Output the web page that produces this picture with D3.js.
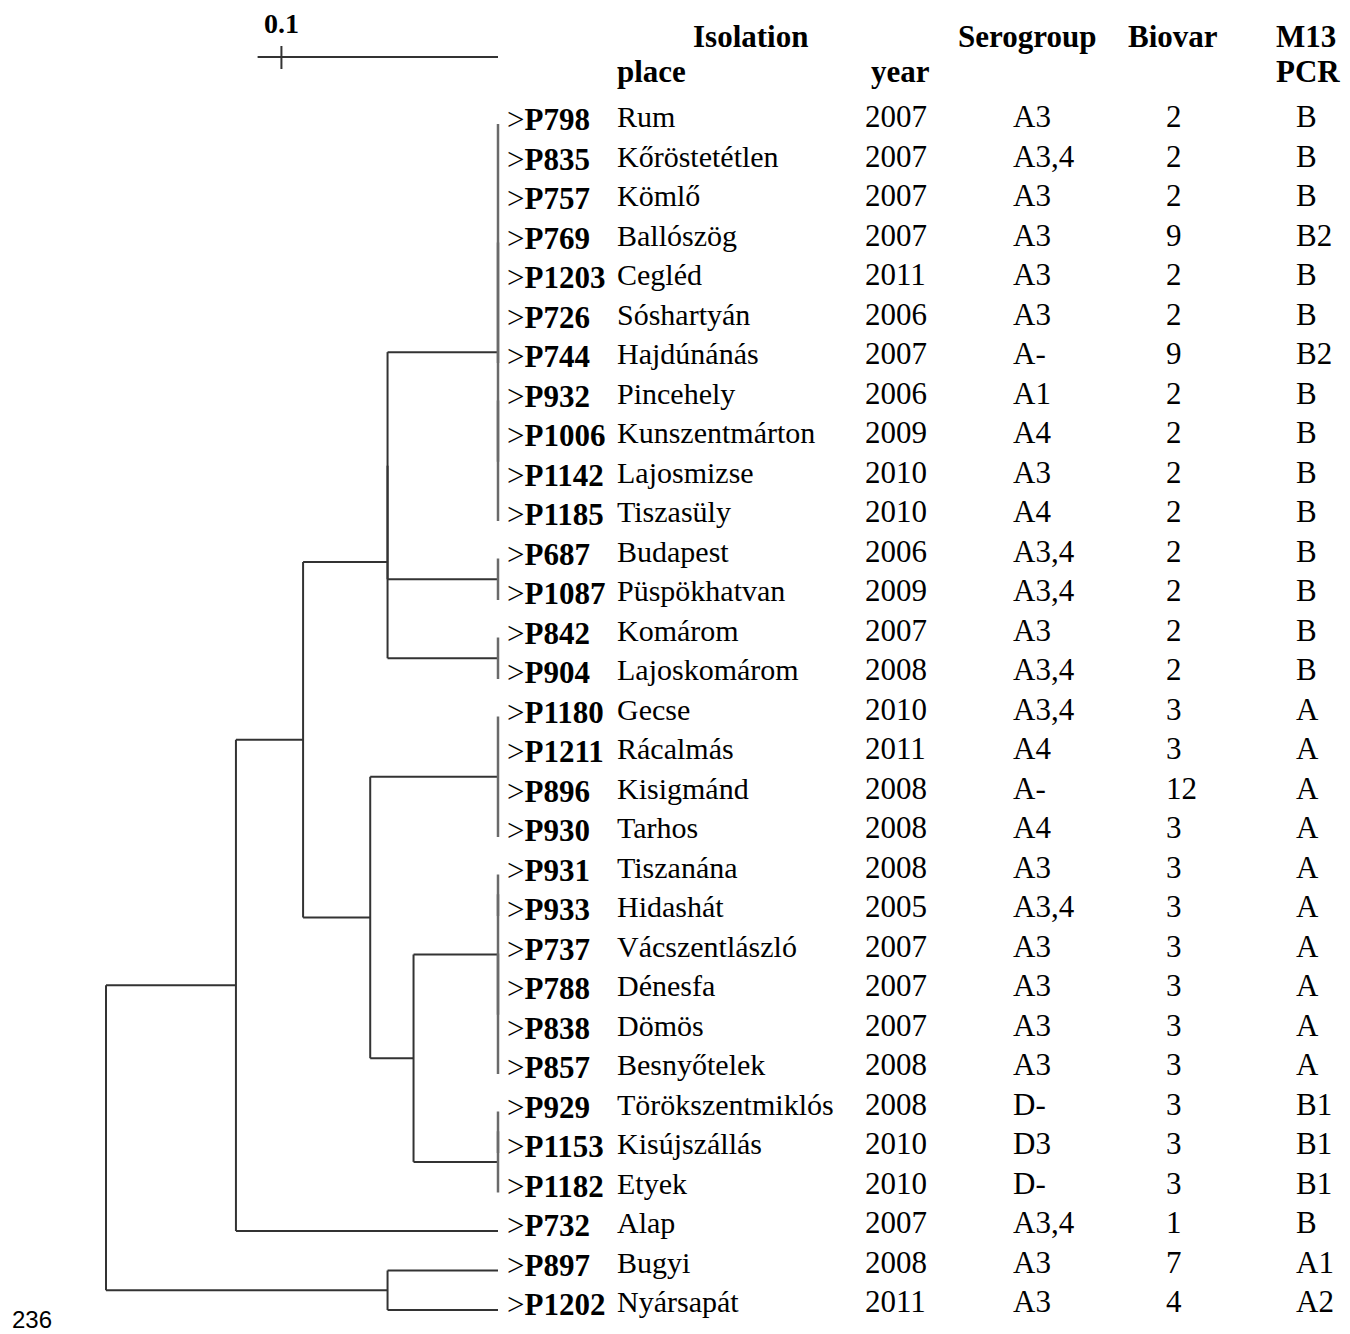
<!DOCTYPE html>
<html>
<head>
<meta charset="utf-8">
<script src="https://cdn.jsdelivr.net/npm/d3@7"></script>
<style>
  body { margin: 0; background: #fff; }
  text { font-family: "Liberation Serif", "Times New Roman", serif; fill: #000; }
</style>
</head>
<body>
<svg id="tree"></svg>
<script>
// isolates, top to bottom
const ids = ["P798", "P835", "P757", "P769", "P1203", "P726", "P744", "P932", "P1006", "P1142", "P1185",
  "P687", "P1087", "P842", "P904", "P1180", "P1211", "P896", "P930", "P931", "P933", "P737", "P788",
  "P838", "P857", "P929", "P1153", "P1182", "P732", "P897", "P1202"];
const places = ["Rum", "Kőröstetétlen", "Kömlő", "Ballószög", "Cegléd", "Sóshartyán", "Hajdúnánás",
  "Pincehely", "Kunszentmárton", "Lajosmizse", "Tiszasüly", "Budapest", "Püspökhatvan", "Komárom",
  "Lajoskomárom", "Gecse", "Rácalmás", "Kisigmánd", "Tarhos", "Tiszanána", "Hidashát", "Vácszentlászló",
  "Dénesfa", "Dömös", "Besnyőtelek", "Törökszentmiklós", "Kisújszállás", "Etyek", "Alap", "Bugyi", "Nyársapát"];
const years = [2007, 2007, 2007, 2007, 2011, 2006, 2007, 2006, 2009, 2010, 2010, 2006, 2009, 2007, 2008,
  2010, 2011, 2008, 2008, 2008, 2005, 2007, 2007, 2007, 2008, 2008, 2010, 2010, 2007, 2008, 2011];
const serogroups = ["A3", "A3,4", "A3", "A3", "A3", "A3", "A-", "A1", "A4", "A3", "A4", "A3,4", "A3,4", "A3",
  "A3,4", "A3,4", "A4", "A-", "A4", "A3", "A3,4", "A3", "A3", "A3", "A3", "D-", "D3", "D-", "A3,4", "A3", "A3"];
const biovars = ["2", "2", "2", "9", "2", "2", "9", "2", "2", "2", "2", "2", "2", "2", "2", "3", "3", "12", "3",
  "3", "3", "3", "3", "3", "3", "3", "3", "3", "1", "7", "4"];
const m13 = ["B", "B", "B", "B2", "B", "B", "B2", "B", "B", "B", "B", "B", "B", "B", "B", "A", "A", "A", "A",
  "A", "A", "A", "A", "A", "A", "B1", "B1", "B1", "B", "A1", "A2"];

// dendrogram (UPGMA-like), branch lengths
const newick = "(((((((P798,P835,P757,P769,P1203,P726,P744):0,(P932,P1006,P1142,P1185):0):0.051,(P687,P1087):0.051):0,(P842,P904):0.051):0.039,((P1180,P1211,P896,P930):0.059,(((P931,P933):0,(P737,P788,P838,P857):0):0.039,((P929,P1153):0,P1182):0.039):0.020):0.031):0.031,P732:0.121):0.060,(P897:0.051,P1202:0.051):0.130);";
const scaleBarValue = 0.1;

const w = 1350;
const h = 1334;
const lineColor = "#333";

const parseNewick = (s) => {
  let i = 0;
  const node = () => {
    const n = {};
    if (s[i] === "(") {
      n.children = [];
      i++;
      n.children.push(node());
      while (s[i] === ",") {
        i++;
        n.children.push(node());
      }
      i++;
    }
    let name = "";
    while (i < s.length && !",():;".includes(s[i])) name += s[i++];
    n.name = name;
    n.length = 0;
    if (s[i] === ":") {
      i++;
      let len = "";
      while (i < s.length && !",();".includes(s[i])) len += s[i++];
      n.length = +len;
    }
    return n;
  };
  return node();
};

const svg = d3.select("#tree").attr("width", w).attr("height", h);

const root = d3.hierarchy(parseNewick(newick));
root.eachBefore((d) => (d.dist = d.parent ? d.parent.dist + d.data.length : 0));
d3.cluster().size([ids.length, 1]).separation(() => 1)(root);

const maxDist = d3.max(root.leaves(), (d) => d.dist);
const xScale = d3.scaleLinear().domain([0, maxDist]).range([106, 498]);
const yScale = d3.scaleLinear().domain([0.5, ids.length - 0.5]).range([125, 1310]);

const leafByName = {};
root.leaves().forEach((d) => (leafByName[d.data.name] = d));

const tree = svg.append("g").attr("stroke", lineColor).attr("stroke-width", 2).attr("fill", "none");

// horizontal branches
tree
  .selectAll("line.branch")
  .data(root.descendants().filter((d) => d.parent && d.data.length > 0))
  .enter()
  .append("line")
  .attr("class", "branch")
  .attr("x1", (d) => xScale(d.parent.dist))
  .attr("x2", (d) => xScale(d.dist))
  .attr("y1", (d) => yScale(d.x))
  .attr("y2", (d) => yScale(d.x));

// vertical connectors
tree
  .selectAll("line.node")
  .data(root.descendants().filter((d) => d.children))
  .enter()
  .append("line")
  .attr("class", "node")
  .attr("stroke", (d) => (d.dist >= maxDist ? "#6a6a6a" : lineColor))
  .attr("stroke-width", (d) => (d.dist >= maxDist ? 2.5 : 2))
  .attr("x1", (d) => xScale(d.dist))
  .attr("x2", (d) => xScale(d.dist))
  .attr("y1", (d) => yScale(d3.min(d.children, (c) => c.x)) - (d.dist >= maxDist ? 1 : 0))
  .attr("y2", (d) => yScale(d3.max(d.children, (c) => c.x)) + (d.dist >= maxDist ? 1 : 0));

// scale bar
const bar = svg.append("g");
bar
  .append("line")
  .attr("x1", xScale(maxDist - scaleBarValue * 1.11))
  .attr("x2", xScale(maxDist))
  .attr("y1", 57)
  .attr("y2", 57)
  .attr("stroke", lineColor)
  .attr("stroke-width", 2);
bar
  .append("line")
  .attr("x1", xScale(maxDist - scaleBarValue))
  .attr("x2", xScale(maxDist - scaleBarValue))
  .attr("y1", 46)
  .attr("y2", 69)
  .attr("stroke", lineColor)
  .attr("stroke-width", 2);
bar
  .append("text")
  .attr("x", xScale(maxDist - scaleBarValue))
  .attr("y", 33)
  .attr("text-anchor", "middle")
  .style("font-weight", "bold")
  .style("font-size", "28px")
  .text(scaleBarValue);

// column headers
const headers = [
  { t: "Isolation", x: 693, y: 47 },
  { t: "place", x: 617, y: 82 },
  { t: "year", x: 871, y: 82 },
  { t: "Serogroup", x: 958, y: 47 },
  { t: "Biovar", x: 1128, y: 47 },
  { t: "M13", x: 1276, y: 47 },
  { t: "PCR", x: 1276, y: 82 },
];
svg
  .append("g")
  .selectAll("text")
  .data(headers)
  .enter()
  .append("text")
  .attr("x", (d) => d.x)
  .attr("y", (d) => d.y)
  .style("font-weight", "bold")
  .style("font-size", "31px")
  .text((d) => d.t);

// table rows
const rowY = (i) => yScale(leafByName[ids[i]].x);
const rows = svg
  .append("g")
  .selectAll("g")
  .data(ids)
  .enter()
  .append("g");

const idText = rows
  .append("text")
  .attr("x", 507)
  .attr("y", (d, i) => rowY(i) + 5)
  .style("font-size", "31px");
idText.append("tspan").text(">");
idText
  .append("tspan")
  .style("font-weight", "bold")
  .text((d) => d);

const columns = [
  { vals: places, x: 617, size: 30 },
  { vals: years, x: 865, size: 31 },
  { vals: serogroups, x: 1013, size: 31 },
  { vals: biovars, x: 1166, size: 31 },
  { vals: m13, x: 1296, size: 31 },
];
columns.forEach((col) => {
  rows
    .append("text")
    .attr("x", col.x)
    .attr("y", (d, i) => rowY(i) + 2)
    .style("font-size", col.size + "px")
    .text((d, i) => col.vals[i]);
});

// page number
svg
  .append("text")
  .attr("x", 12)
  .attr("y", 1328)
  .style("font-family", "'Liberation Sans', Arial, sans-serif")
  .style("font-size", "24px")
  .text("236");
</script>
</body>
</html>
